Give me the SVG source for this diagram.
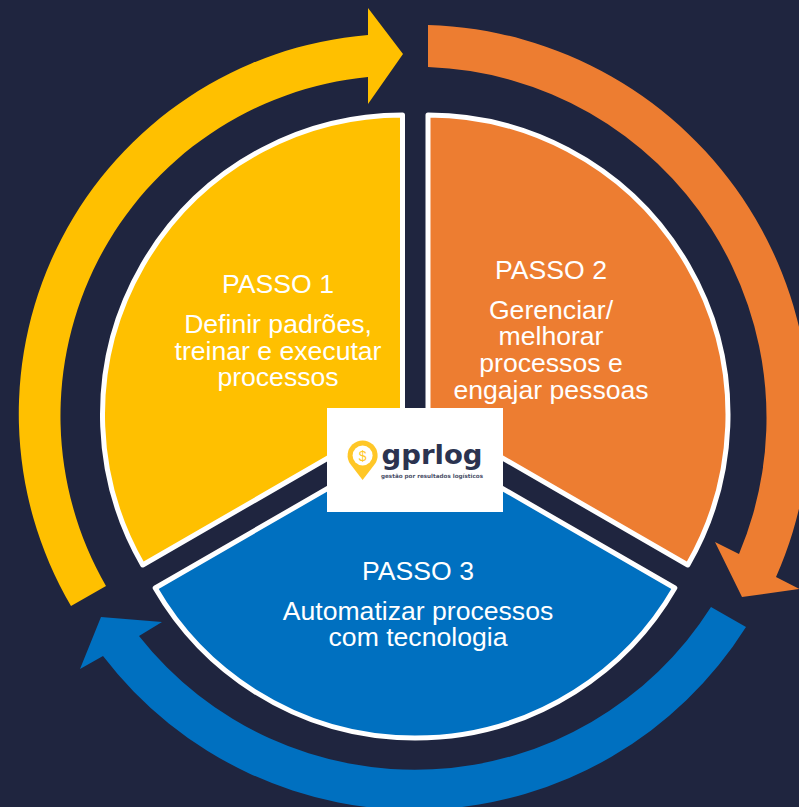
<svg xmlns="http://www.w3.org/2000/svg" width="799" height="807" viewBox="0 0 799 807">
<style>
.w{stroke:#fff;stroke-width:5;stroke-linejoin:round}
.t{font-family:"Liberation Sans",Arial,sans-serif;font-size:26.6px;fill:#fff;text-anchor:middle}
</style>
<rect width="799" height="807" fill="#1F253F"/>
<g id="connectors">
<path id="arrow-yellow" fill="#FFC000" d="M71,606 A380,380 0 0 1 368,35 L368,8 L403,54 L368,104 L368,77 A340.5,340.5 0 0 0 106,586 Z"/>
<path id="arrow-orange" fill="#ED7D31" d="M428,25 A393,393 0 0 1 776,577 L799.5,589 L742,597 L715,542 L739,554 A351,351 0 0 0 428,67 Z"/>
<path id="arrow-blue" fill="#0070C0" d="M746,627 A392,392 0 0 1 103,656 L80,669 L101,617 L162,622 L139,636 A351,351 0 0 0 711,607 Z"/>
</g>
<g id="node-passo-1">
<path class="w" fill="#FFC000" d="M402.5,415 L402.5,115 A300,300 0 0 0 142.7,565 Z"/>
<text class="t"><tspan x="278" y="293">PASSO 1</tspan><tspan x="278" y="333">Definir padrões,</tspan><tspan x="278" y="360">treinar e executar</tspan><tspan x="278" y="386">processos</tspan></text>
</g>
<g id="node-passo-2">
<path class="w" fill="#ED7D31" d="M428,415 L428,115 A300,300 0 0 1 687.8,565 Z"/>
<text class="t"><tspan x="551" y="279">PASSO 2</tspan><tspan x="551" y="319">Gerenciar/</tspan><tspan x="551" y="345">melhorar</tspan><tspan x="551" y="372">processos e</tspan><tspan x="551" y="399">engajar pessoas</tspan></text>
</g>
<g id="node-passo-3">
<path class="w" fill="#0070C0" d="M415,438 L155.2,588 A300,300 0 0 0 674.8,588 Z"/>
<text class="t"><tspan x="418" y="580">PASSO 3</tspan><tspan x="418" y="620">Automatizar processos</tspan><tspan x="418" y="646">com tecnologia</tspan></text>
</g>
<g id="node-logo">
<rect x="327" y="408" width="176" height="104" fill="#fff"/>
<path fill="#FFC727" d="M362.6,480 L350.3,464 A15,15 0 1 1 374.9,464 Z"/>
<circle cx="362.6" cy="455.5" r="10" fill="#fff"/>
<text x="362.6" y="460.5" font-family="'Liberation Sans',Arial,sans-serif" font-size="14" fill="#FFC727" text-anchor="middle">$</text>
<text x="381.5" y="464" font-family="'DejaVu Sans',sans-serif" font-weight="700" font-size="26.5" fill="#2B3350" textLength="101" lengthAdjust="spacingAndGlyphs">gprlog</text>
<text x="381" y="478" font-family="'DejaVu Sans',sans-serif" font-weight="700" font-size="5.6" fill="#4A5068" textLength="102" lengthAdjust="spacingAndGlyphs">gestão por resultados logísticos</text>
</g>
</svg>
